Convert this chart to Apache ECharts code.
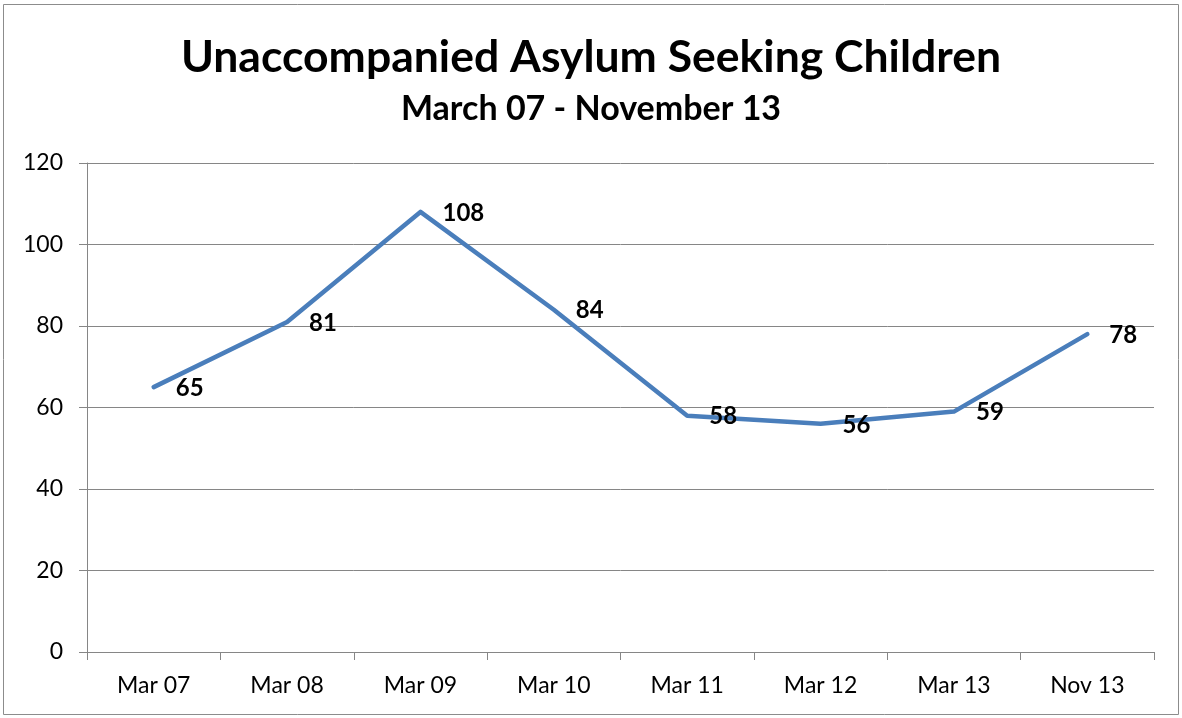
<!DOCTYPE html>
<html>
<head>
<meta charset="utf-8">
<script src="https://cdn.jsdelivr.net/npm/echarts@6/dist/echarts.min.js"></script>
<style>
  html, body { margin: 0; padding: 0; background: #fff; }
  #chart { width: 1182px; height: 718px; }
</style>
</head>
<body>
<div id="chart"></div>
<script>
// Period labels along the bottom axis
const periods = ['Mar 07', 'Mar 08', 'Mar 09', 'Mar 10', 'Mar 11', 'Mar 12', 'Mar 13', 'Nov 13'];
// Number of unaccompanied asylum seeking children per period
const children = [65, 81, 108, 84, 58, 56, 59, 78];

const titleText = 'Unaccompanied Asylum Seeking Children';
const subtitleText = 'March 07 - November 13';

const FONT = 'Lato, "Open Sans", "Noto Sans", sans-serif';

const chart = echarts.init(document.getElementById('chart'), null, { renderer: 'canvas' });

chart.setOption({
  animation: false,
  backgroundColor: '#ffffff',
  graphic: [{
    type: 'rect',
    shape: { x: 3.5, y: 4.5, width: 1175, height: 710 },
    style: { fill: 'none', stroke: '#8c8c8c', lineWidth: 1 },
    silent: true
  }],
  title: {
    text: titleText,
    subtext: subtitleText,
    left: 'center',
    top: 30,
    itemGap: 12,
    textStyle: { fontFamily: FONT, fontWeight: 'bold', fontSize: 44.5, color: '#000' },
    subtextStyle: { fontFamily: FONT, fontWeight: 'bold', fontSize: 34, color: '#000' }
  },
  grid: { left: 87, right: 28, top: 163, bottom: 66, containLabel: false },
  xAxis: {
    type: 'category',
    data: periods,
    boundaryGap: true,
    axisLine: { lineStyle: { color: '#868686', width: 1 } },
    axisTick: { show: true, length: 8, alignWithLabel: false, lineStyle: { color: '#868686' } },
    axisLabel: { color: '#000', fontFamily: FONT, fontSize: 23, margin: 22 },
    splitLine: { show: false }
  },
  yAxis: {
    type: 'value',
    min: 0,
    max: 120,
    interval: 20,
    axisLine: { show: true, lineStyle: { color: '#868686', width: 1 } },
    axisTick: { show: true, length: 8, lineStyle: { color: '#868686' } },
    axisLabel: { color: '#000', fontFamily: FONT, fontSize: 23, margin: 24 },
    splitLine: { show: true, lineStyle: { color: '#868686', width: 1 } }
  },
  series: [{
    type: 'line',
    data: children,
    symbol: 'circle',
    symbolSize: 0.1,
    showSymbol: true,
    lineStyle: { color: '#4a7ebb', width: 4.5, cap: 'round', join: 'round' },
    itemStyle: { color: '#4a7ebb' },
    label: {
      show: true,
      position: 'right',
      distance: 22,
      offset: [0, 1],
      color: '#000',
      fontFamily: FONT,
      fontWeight: 'bold',
      fontSize: 24
    }
  }]
});
</script>
</body>
</html>
